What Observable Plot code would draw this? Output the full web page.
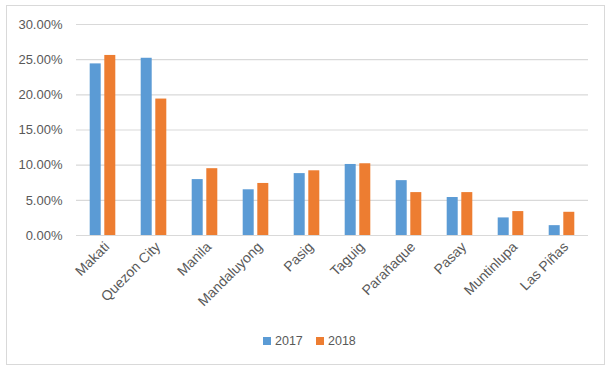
<!DOCTYPE html>
<html>
<head>
<meta charset="utf-8">
<script src="https://cdn.jsdelivr.net/npm/d3@7"></script>
<script src="https://cdn.jsdelivr.net/npm/@observablehq/plot@0.6"></script>
<style>
  html, body { margin: 0; padding: 0; background: #fff; }
  #wrap { position: relative; width: 615px; height: 374px; overflow: hidden; font-family: "Liberation Sans", Arial, sans-serif; }
  #frame { position: absolute; left: 6px; top: 5px; width: 599px; height: 360px; border: 1px solid #d9d9d9; box-sizing: border-box; }
  #chart { position: absolute; left: 0; top: 0; }
  #legend { position: absolute; left: 0; top: 333px; width: 615px; height: 16px; font-size: 12.5px; color: #595959; }
  .sw { position: absolute; top: 4px; width: 8px; height: 8px; }
  .lt { position: absolute; top: 0; line-height: 16px; }
</style>
</head>
<body>
<div id="wrap">
  <div id="frame"></div>
  <div id="chart"></div>
  <div id="legend"></div>
</div>
<script>
const cities = ["Makati", "Quezon City", "Manila", "Mandaluyong", "Pasig", "Taguig", "Parañaque", "Pasay", "Muntinlupa", "Las Piñas"];
const v2017 = [0.244, 0.252, 0.0795, 0.065, 0.088, 0.101, 0.078, 0.054, 0.025, 0.014];
const v2018 = [0.256, 0.194, 0.095, 0.074, 0.092, 0.102, 0.061, 0.061, 0.034, 0.033];
const years = ["2017", "2018"];
const colors = ["#5B9BD5", "#ED7D31"];
const yTicks = [0, 0.05, 0.10, 0.15, 0.20, 0.25, 0.30];

const d17 = cities.map((c, i) => ({city: c, value: v2017[i]}));
const d18 = cities.map((c, i) => ({city: c, value: v2018[i]}));

const chart = Plot.plot({
  width: 615,
  height: 330,
  marginLeft: 76,
  marginRight: 27,
  marginTop: 24,
  marginBottom: 95,
  style: {fontFamily: "Liberation Sans, Arial, sans-serif", fontSize: "12px", color: "#595959", background: "transparent"},
  x: {domain: cities, paddingInner: 0.775, paddingOuter: 0.3875, label: null},
  y: {domain: [0, 0.30], label: null},
  marks: [
    Plot.ruleY(yTicks, {stroke: "#d9d9d9", strokeWidth: 1.2}),
    Plot.barY(d17, {x: "city", y: "value", fill: colors[0], dx: -7.3}),
    Plot.barY(d18, {x: "city", y: "value", fill: colors[1], dx: 7.3}),
    Plot.axisY({ticks: yTicks, tickFormat: d3.format(".2%"), tickSize: 0, tickPadding: 14, fontSize: 13, label: null}),
    Plot.axisX({tickSize: 0, tickRotate: -45, tickPadding: 9, dx: 4, fontSize: 14, label: null})
  ]
});
document.getElementById("chart").appendChild(chart);

const legend = document.getElementById("legend");
const pos = [263, 316];
years.forEach((y, i) => {
  const s = document.createElement("div");
  s.className = "sw"; s.style.left = pos[i] + "px"; s.style.background = colors[i];
  legend.appendChild(s);
  const t = document.createElement("div");
  t.className = "lt"; t.style.left = (pos[i] + 12) + "px"; t.textContent = y;
  legend.appendChild(t);
});
</script>
</body>
</html>
